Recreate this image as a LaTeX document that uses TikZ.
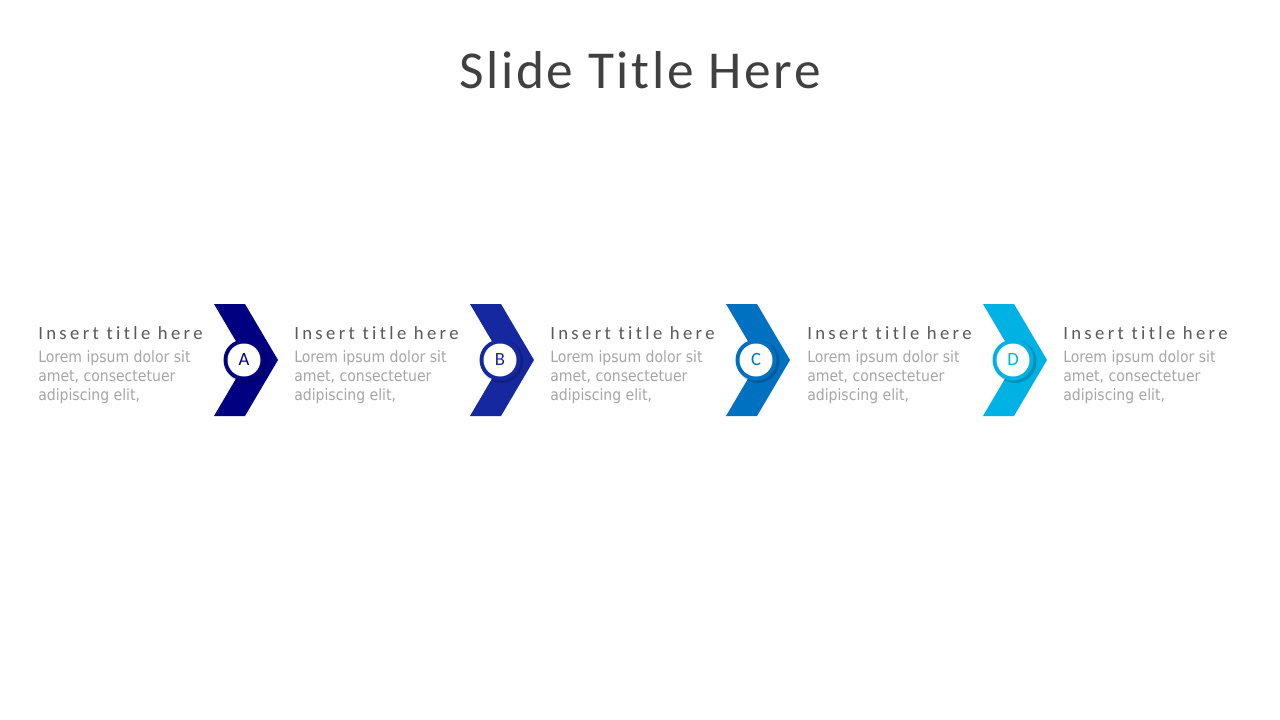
\documentclass[tikz,border=0pt]{standalone}
\usepackage{fontspec}
\setmainfont{Carlito}
\newfontfamily\bodyfont{DejaVu Sans Condensed}
\newfontfamily\spaced[LetterSpace=18,Ligatures={NoCommon}]{Carlito}
\newfontfamily\titlespaced[LetterSpace=5,Ligatures={NoCommon}]{Carlito}
\definecolor{cA}{RGB}{0,0,128}
\definecolor{cB}{RGB}{22,40,160}
\definecolor{cC}{RGB}{0,112,192}
\definecolor{cD}{RGB}{0,178,228}
\definecolor{titlegray}{RGB}{64,64,64}
\definecolor{headgray}{RGB}{89,89,89}
\definecolor{bodygray}{RGB}{165,165,165}
\begin{document}
\begin{tikzpicture}[x=0.75pt,y=-0.75pt,
  head/.style={anchor=base west,inner sep=0pt,text=headgray,font=\spaced\fontsize{14pt}{16pt}\selectfont},
  body/.style={anchor=base west,inner sep=0pt,text=bodygray,align=left,font=\bodyfont\fontsize{11.7pt}{14.25pt}\selectfont},
  letter/.style={inner sep=0pt,font=\fontsize{14pt}{16pt}\selectfont}]
\useasboundingbox (0,0) rectangle (1280,720);
\node[inner sep=0pt,text=titlegray,font=\titlespaced\fontsize{40pt}{48pt}\selectfont] (title) at (640,70) {Slide Title Here};
\foreach \x/\c/\l/\n in {214/cA/A/a,470/cB/B/b,726/cC/C/c,983/cD/D/d}{
  \fill[\c] (\x,304) -- (\x+31,304) -- (\x+64,360) -- (\x+31,416) -- (\x,416) -- (\x+33,360) -- cycle;
  \fill[black,opacity=0.18] (\x+32,361.5) circle[radius=21.5];
  \fill[\c] (\x+30,360) circle[radius=20.5];
  \fill[white] (\x+30,360) circle[radius=16.5];
  \node[letter,text=\c] (lab\n) at (\x+30,360) {\l};
}
\foreach \x/\n in {38/1,294/2,550/3,807/4,1063/5}{
  \node[head] (head\n) at (\x,339) {Insert title here};
  \node[body] (body\n) at (\x,400) {Lorem ipsum dolor sit\\amet, consectetuer\\adipiscing elit,};
}
\end{tikzpicture}
\end{document}
